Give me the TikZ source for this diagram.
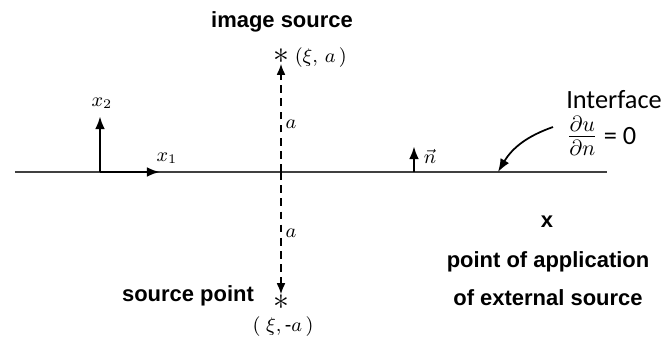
\documentclass[tikz,border=0pt]{standalone}
\usepackage{amsmath,amssymb}
\usepackage{fontspec}
\setmainfont{Liberation Sans}
\newfontfamily\calfont{Carlito}
\usetikzlibrary{arrows.meta,positioning,calc}

\begin{document}
\begin{tikzpicture}[x=0.016cm,y=-0.016cm,
  every node/.style={font=\normalsize},
  boldlabel/.style={font=\bfseries\normalsize},
  mathlabel/.style={font=\small},
  axisarrow/.style={line width=1.3pt,-{Latex[length=6pt,width=4.5pt]}},
  dashedarrow/.style={dash pattern=on 3.5pt off 2.5pt,line width=0.7pt,-{Latex[length=5pt,width=4pt]}},
  starmark/.style={inner sep=0pt,font=\Large}]
  \useasboundingbox (0,0) rectangle (667,344);
  % interface line
  \coordinate (lineL) at (15,172);
  \coordinate (lineR) at (607,172);
  \draw[line width=0.9pt,black!75] (lineL) -- (lineR);
  % coordinate axes
  \coordinate (origin) at (100,172);
  \coordinate (x2tip) at (100,116);
  \coordinate (x1tip) at (160,172);
  \draw[axisarrow] (origin) -- (x2tip);
  \draw[axisarrow] (origin) -- (x1tip);
  \node[mathlabel] (x2lab) at (102,103) {$x_2$};
  \node[mathlabel] (x1lab) at (167,158) {$x_1$};
  % image source and source point
  \node[starmark] (imgstar) at (281,56) {$\ast$};
  \node[starmark] (srcstar) at (281,302) {$\ast$};
  \coordinate (mid) at (281,172);
  \draw[dashedarrow] (mid) -- (imgstar.south);
  \draw[dashedarrow] (mid) -- (srcstar.north);
  \node[boldlabel] (imglab) at (282,22) {image source};
  \node[mathlabel,anchor=west] (imgpos) at (287,58) {$(\xi,\,a\,)$};
  \node[mathlabel] (atop) at (291,124) {$a$};
  \node[mathlabel] (abot) at (291,233) {$a$};
  \node[boldlabel] (srclab) at (188,296) {source point};
  \node[mathlabel] (srcpos) at (283,327) {$(\;\xi,\text{-}a\,)$};
  % normal vector
  \coordinate (nbase) at (414,172);
  \coordinate (ntip) at (414,146);
  \draw[axisarrow] (nbase) -- (ntip);
  \node[mathlabel] (nlab) at (430,156) {$\vec{n}$};
  % interface condition
  \node[font=\calfont\large,inner sep=1pt] (iflab) at (614,100) {Interface};
  \node[font=\calfont\large,anchor=west,inner sep=1pt] (bclab) at (564,136) {{\Large$\frac{\partial u}{\partial n}$} = 0};
  \coordinate (bcpoint) at (498,172);
  \draw[line width=0.8pt,-{Latex[length=6pt,width=4.5pt]}] (553,127) to[bend right=20] (bcpoint);
  % external source
  \node[boldlabel] (extmark) at (547,222) {x};
  \node[boldlabel] (extlab1) at (548,262) {point of application};
  \node[boldlabel] (extlab2) at (548,298) {of external source};
\end{tikzpicture}
\end{document}
